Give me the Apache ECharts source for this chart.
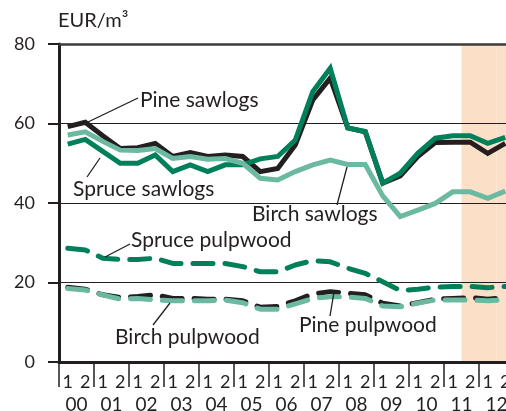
<!DOCTYPE html>
<html><head><meta charset="utf-8">
<script src="https://cdn.jsdelivr.net/npm/echarts@6/dist/echarts.min.js"></script>
<style>html,body{margin:0;padding:0;background:#fff}#c{width:506px;height:411px}</style>
</head><body><div id="c"></div>
<script>
var years = ['00','01','02','03','04','05','06','07','08','09','10','11','12'];
var halves = [];
years.forEach(function(){ halves.push('1','2'); });
var yTicks = [0, 20, 40, 60, 80];

var pineSawlogs   = [59.2,60.3,56.9,53.7,53.9,55.0,51.7,52.7,51.7,52.1,51.7,47.9,48.7,54.6,65.9,71.4,58.9,57.9,45.0,46.8,51.7,55.2,55.3,55.3,52.5,55.0];
var spruceSawlogs = [54.8,56.0,53.0,50.0,50.0,52.1,47.9,49.6,47.9,49.6,49.6,51.1,51.7,55.8,68.0,73.9,58.9,58.0,45.0,47.5,52.5,56.3,56.9,56.9,55.0,56.5];
var birchSawlogs  = [57.1,57.9,55.5,53.3,53.2,53.7,51.2,51.7,51.0,51.2,50.0,46.2,45.8,47.9,49.6,50.8,49.7,49.7,41.8,36.6,38.2,39.9,42.8,42.8,41.2,43.0];
var sprucePulp    = [28.6,28.2,26.1,25.8,25.8,26.1,24.8,24.8,24.8,24.8,24.0,22.7,22.7,24.4,25.5,25.2,23.6,22.3,20.2,18.0,18.3,18.8,19.0,19.0,18.7,19.0];
var pinePulp      = [18.8,18.3,16.9,16.2,16.5,16.9,16.0,16.0,15.8,15.8,15.4,13.8,14.0,15.4,17.1,17.7,17.3,16.9,14.8,14.1,14.9,15.8,16.0,16.2,15.8,16.2];
var birchPulp     = [18.5,18.1,16.9,15.8,16.0,15.6,15.4,15.4,15.4,15.6,14.9,13.3,13.3,14.6,16.0,16.4,16.4,16.0,14.1,13.9,14.8,15.6,15.6,15.6,15.4,15.7];
var forecast      = [0,0,0,0,0,0,0,0,0,0,0,0,0,0,0,0,0,0,0,0,0,0,0,1,1,1];

var BLACK = '#231f20', DARK = '#00805a', LIGHT = '#6cb9a1', SHADE = '#fcdfc7';
var FONT = 'Lato';
var yMax = yTicks[yTicks.length - 1];

function solid(name, data, color, z) {
  return { name: name, type: 'line', data: data, xAxisIndex: 0, symbol: 'none', z: z,
    lineStyle: { color: color, width: 5, join: 'miter', cap: 'butt' } };
}
function dashed(name, data, color, z) {
  return { name: name, type: 'line', data: data, xAxisIndex: 0, symbol: 'none', z: z,
    lineStyle: { color: color, width: 5, type: [20, 12], cap: 'round', join: 'round' } };
}
function label(text, x, y) {
  return { type: 'text', left: x, top: y - 13, z: 100,
    style: { text: text, fill: BLACK, font: '21px ' + FONT } };
}
function leader(x1, y1, x2, y2) {
  return { type: 'line', z: 100, shape: { x1: x1, y1: y1, x2: x2, y2: y2 },
    style: { stroke: BLACK, lineWidth: 1.3 } };
}

var chart = echarts.init(document.getElementById('c'), null, { renderer: 'canvas' });
chart.setOption({
  animation: false,
  backgroundColor: '#fff',
  grid: { left: 59, top: 44, width: 455, height: 318, containLabel: false, outerBoundsMode: 'none' },
  xAxis: [
    { type: 'category', data: halves, boundaryGap: true, position: 'bottom',
      axisLine: { lineStyle: { color: BLACK, width: 3 } },
      axisTick: { interval: 0, length: 7, lineStyle: { color: BLACK, width: 1.5 } },
      axisLabel: { interval: 0, margin: 11, color: BLACK, fontSize: 18, fontFamily: FONT },
      splitLine: { show: false } },
    { type: 'category', data: years, boundaryGap: true, position: 'bottom',
      axisLine: { show: false },
      axisTick: { show: true, interval: 0, length: 25, lineStyle: { color: BLACK, width: 1.5 } },
      axisLabel: { interval: 0, margin: 33, color: BLACK, fontSize: 19, fontFamily: FONT },
      splitLine: { show: false } },
    { type: 'category', data: halves, position: 'top',
      axisLine: { lineStyle: { color: '#3c3c3c', width: 2.5 } },
      axisTick: { show: false }, axisLabel: { show: false } }
  ],
  yAxis: {
    type: 'value', min: yTicks[0], max: yMax, interval: 20,
    name: 'EUR/m³', nameLocation: 'end', nameGap: 13,
    nameTextStyle: { color: BLACK, fontSize: 20, fontFamily: FONT, align: 'left', padding: [0, 0, 0, -1] },
    axisLine: { show: true, lineStyle: { color: BLACK, width: 3 } },
    axisTick: { show: true, length: 11, lineStyle: { color: BLACK, width: 2 } },
    axisLabel: { margin: 24, color: BLACK, fontSize: 18, fontFamily: FONT },
    splitLine: { show: true, lineStyle: { color: BLACK, width: 1 } }
  },
  series: [
    { name: 'forecast', type: 'bar', xAxisIndex: 0, z: -1, barWidth: '100%', barGap: '-100%',
      data: forecast.map(function (f) { return f ? yMax : null; }),
      itemStyle: { color: SHADE }, silent: true },
    solid('Pine sawlogs', pineSawlogs, BLACK, 3),
    solid('Spruce sawlogs', spruceSawlogs, DARK, 4),
    solid('Birch sawlogs', birchSawlogs, LIGHT, 5),
    dashed('Pine pulpwood', pinePulp, BLACK, 3),
    dashed('Birch pulpwood', birchPulp, LIGHT, 4),
    dashed('Spruce pulpwood', sprucePulp, DARK, 5)
  ],
  graphic: [
    label('Pine sawlogs', 140, 103), leader(138, 98, 88, 122),
    label('Spruce sawlogs', 73, 192), leader(87, 177, 100, 158),
    label('Birch sawlogs', 252, 217), leader(337, 205, 347, 167),
    label('Spruce pulpwood', 131, 243), leader(130, 244, 105, 257),
    label('Birch pulpwood', 115, 340), leader(153, 325, 170, 303),
    label('Pine pulpwood', 299, 328), leader(330, 316, 334, 292)
  ]
});
</script></body></html>
